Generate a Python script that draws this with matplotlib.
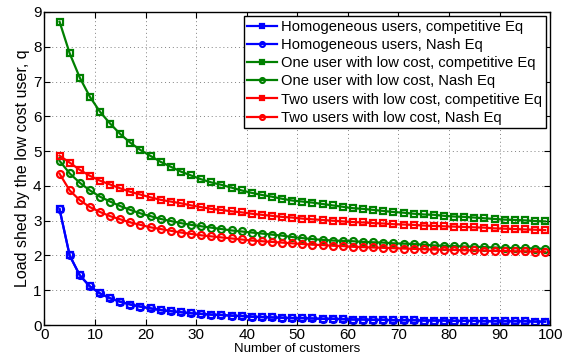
import matplotlib
matplotlib.use("Agg")
import matplotlib.pyplot as plt

plt.rcParams['font.family'] = ['Liberation Sans', 'DejaVu Sans']

# Number of customers
customers = list(range(3, 100, 2))

# Homogeneous users (competitive and Nash equilibria coincide)
homog_comp = [3.33, 2.00, 1.43, 1.11, 0.91, 0.77, 0.67, 0.59, 0.53, 0.48,
              0.43, 0.40, 0.37, 0.34, 0.32, 0.30, 0.29, 0.27, 0.26, 0.24,
              0.23, 0.22, 0.21, 0.20, 0.20, 0.19, 0.18, 0.18, 0.17, 0.16,
              0.16, 0.15, 0.15, 0.14, 0.14, 0.14, 0.13, 0.13, 0.13, 0.12,
              0.12, 0.12, 0.11, 0.11, 0.11, 0.11, 0.11, 0.10, 0.10]
homog_nash = list(homog_comp)

# One user with low cost
one_comp = [8.72, 7.81, 7.11, 6.56, 6.13, 5.79, 5.49, 5.24, 5.03, 4.86,
            4.69, 4.55, 4.41, 4.30, 4.19, 4.10, 4.03, 3.95, 3.87, 3.80,
            3.74, 3.69, 3.63, 3.58, 3.55, 3.52, 3.48, 3.44, 3.40, 3.36,
            3.34, 3.31, 3.28, 3.25, 3.23, 3.20, 3.18, 3.17, 3.14, 3.12,
            3.11, 3.09, 3.07, 3.05, 3.03, 3.02, 3.01, 2.99, 2.98]
one_nash = [4.72, 4.36, 4.09, 3.87, 3.69, 3.55, 3.42, 3.31, 3.21, 3.13,
            3.05, 2.99, 2.93, 2.88, 2.84, 2.80, 2.76, 2.72, 2.69, 2.66,
            2.63, 2.60, 2.57, 2.53, 2.50, 2.47, 2.45, 2.43, 2.42, 2.41,
            2.39, 2.38, 2.37, 2.35, 2.34, 2.33, 2.31, 2.29, 2.28, 2.27,
            2.26, 2.25, 2.24, 2.23, 2.22, 2.21, 2.21, 2.20, 2.19]

# Two users with low cost
two_comp = [4.87, 4.67, 4.46, 4.29, 4.15, 4.04, 3.93, 3.83, 3.75, 3.67,
            3.60, 3.55, 3.50, 3.44, 3.39, 3.34, 3.31, 3.27, 3.24, 3.20,
            3.17, 3.14, 3.11, 3.09, 3.06, 3.04, 3.02, 3.00, 2.98, 2.96,
            2.95, 2.93, 2.92, 2.90, 2.89, 2.88, 2.86, 2.85, 2.84, 2.83,
            2.82, 2.81, 2.80, 2.78, 2.77, 2.76, 2.75, 2.74, 2.73]
two_nash = [4.35, 3.87, 3.59, 3.39, 3.25, 3.13, 3.04, 2.95, 2.88, 2.81,
            2.76, 2.71, 2.66, 2.62, 2.58, 2.55, 2.52, 2.49, 2.46, 2.43,
            2.41, 2.39, 2.37, 2.35, 2.33, 2.31, 2.30, 2.28, 2.27, 2.25,
            2.24, 2.23, 2.22, 2.21, 2.20, 2.19, 2.18, 2.17, 2.17, 2.16,
            2.15, 2.15, 2.14, 2.13, 2.13, 2.12, 2.12, 2.11, 2.11]

series = [
    (homog_comp, 'Homogeneous users, competitive Eq', '#0000ff', 's'),
    (homog_nash, 'Homogeneous users, Nash Eq', '#0000ff', 'o'),
    (one_comp, 'One user with low cost, competitive Eq', '#008000', 's'),
    (one_nash, 'One user with low cost, Nash Eq', '#008000', 'o'),
    (two_comp, 'Two users with low cost, competitive Eq', '#ff0000', 's'),
    (two_nash, 'Two users with low cost, Nash Eq', '#ff0000', 'o'),
]

fig = plt.figure(figsize=(5.69, 3.62), dpi=100)
ax = fig.add_axes([0.078, 0.102, 0.889, 0.865])

for values, label, color, marker in series:
    ax.plot(customers, values, color=color, linewidth=1.6, marker=marker,
            markersize=5, markerfacecolor='none', markeredgecolor=color,
            markeredgewidth=1.6, label=label)

ax.set_xlim(0, 100)
ax.set_ylim(0, 9)
ax.set_xticks(range(0, 101, 10))
ax.set_yticks(range(0, 10, 1))
ax.grid(True, linestyle=(0, (1, 3)), color='#808080', linewidth=0.7)
ax.tick_params(direction='in', top=True, right=True, labelsize=11,
               length=4, width=0.8, pad=2)
for sp in ax.spines.values():
    sp.set_linewidth(1.0)

ax.set_xlabel('Number of customers', fontsize=9.5, labelpad=1)
ax.set_ylabel('Load shed by the low cost user, q', fontsize=11.5, labelpad=2)

leg = ax.legend(loc='upper right', fontsize=10.6, frameon=True, fancybox=False,
                edgecolor='black', framealpha=1, handlelength=2.0,
                handletextpad=0.3, borderpad=0.25, labelspacing=0.28,
                borderaxespad=0.3, markerscale=0.7)
leg.get_frame().set_linewidth(1.0)

fig.savefig('out.png', dpi=100)
